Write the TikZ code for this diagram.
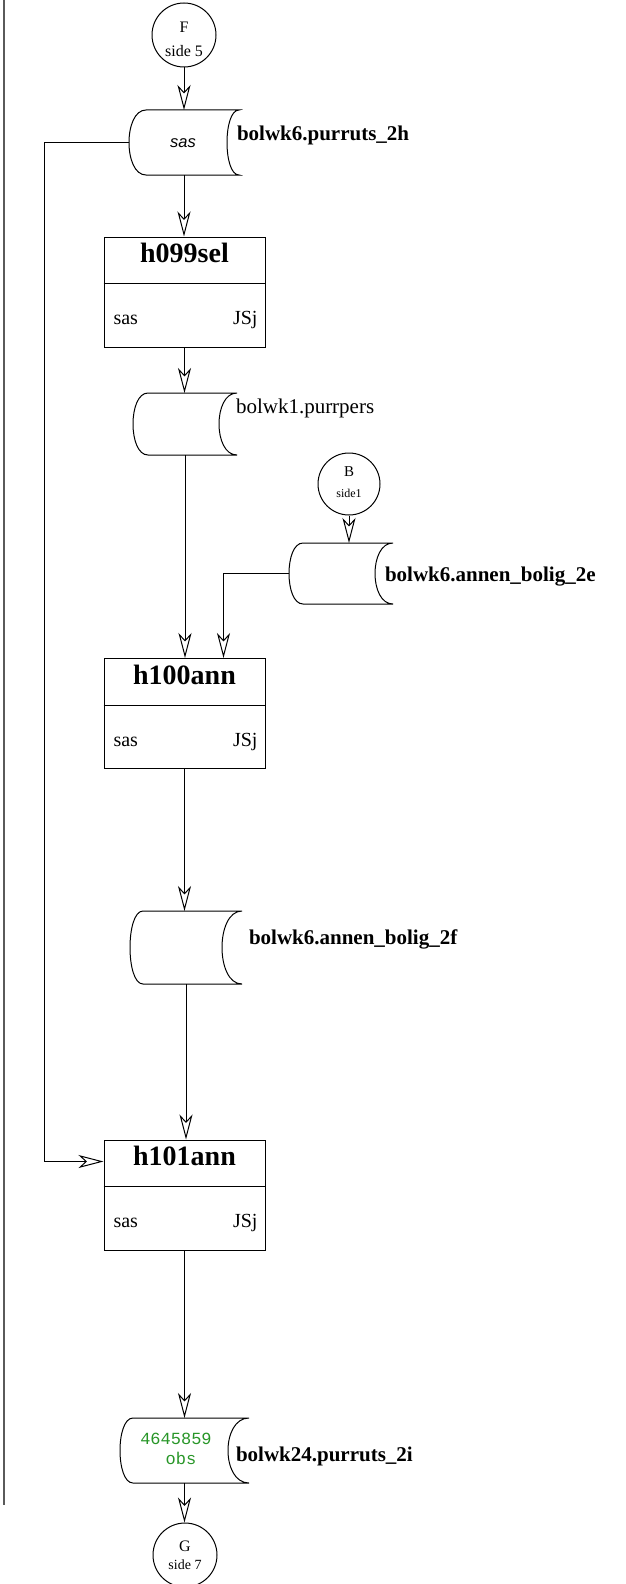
\documentclass[tikz,border=0pt]{standalone}
\usepackage{fontspec}
\setmainfont{Liberation Serif}
\setsansfont{Liberation Sans}
\setmonofont{Liberation Mono}
\usetikzlibrary{arrows.meta,calc}
\definecolor{obsgreen}{RGB}{40,150,40}
\definecolor{rulegray}{RGB}{90,90,90}
\tikzset{
  plain/.style={line width=1pt},
  conn/.style={line width=1pt, -{Stealth[open, length=25pt, width=13pt, inset=7pt]}},
  pagecircle/.style={circle, draw, line width=1pt, minimum size=64pt, inner sep=0pt},
  procbox/.style={draw, line width=1pt, minimum width=161pt, minimum height=110pt, inner sep=0pt},
  txt/.style={inner sep=0pt, outer sep=0pt},
  lbl/.style={txt, anchor=base west, font=\fontsize{21}{25}\selectfont},
  lblb/.style={txt, anchor=base west, font=\bfseries\fontsize{21}{25}\selectfont},
  ttl/.style={txt, anchor=base, font=\bfseries\fontsize{28}{32}\selectfont},
  cell/.style={txt, font=\fontsize{20}{24}\selectfont},
  circtxt/.style={txt, anchor=base, font=\fontsize{16}{19}\selectfont},
  obs/.style={txt, anchor=base, text=obsgreen, font=\ttfamily\fontsize{17}{20}\selectfont},
}
% storage: xl xr yt yb dl dr name
\newcommand{\storagenode}[7]{%
  \node[inner sep=0pt, outer sep=0pt, minimum width={(#2-#1)*1pt}, minimum height={(#4-#3)*1pt}] (#7) at ({(#1+#2)/2},{(#3+#4)/2}) {};
  \draw[plain] ({#1+#5},#3) -- (#2,#3)
    .. controls ({#2-4*#6/3},#3) and ({#2-4*#6/3},#4) .. (#2,#4)
    -- ({#1+#5},#4)
    .. controls ({#1-#5/3},#4) and ({#1-#5/3},#3) .. cycle;}
% process box: name, y-centre, title
\newcommand{\procnode}[3]{%
  \node[procbox] (#1) at (184.5,#2) {};
  \draw[plain] ($(#1.north west)+(0,47)$) -- ($(#1.north east)+(0,47)$);
  \node[ttl] (#1t) at ($(#1.north)+(0,26)$) {#3};
  \node[cell, anchor=base west] (#1a) at ($(#1.north west)+(10,88)$) {sas};
  \node[cell, anchor=base east] (#1b) at ($(#1.north east)+(-8,88)$) {JSj};}
\begin{document}
\begin{tikzpicture}[x=1pt,y=-1pt]
\useasboundingbox (0,0) rectangle (625,1584);

% left rule
\draw[rulegray, line width=2pt] (4,0) -- (4,1505);

% page connector F
\node[pagecircle] (F) at (184,35) {};
\node[circtxt] (Ft) at ($(F.center)+(0,-2)$) {F};
\node[circtxt] (Fs) at ($(F.center)+(0,22)$) {side 5};

% storage 1
\storagenode{129}{239}{110}{175}{17}{12}{s1}
\node[txt, anchor=base, font=\sffamily\itshape\fontsize{16.5}{20}\selectfont] (s1t) at (183,147) {sas};
\node[lblb] (s1l) at (237,141) {bolwk6.purruts\_2h};

% h099sel
\procnode{h099}{292}{h099sel}

% storage 2
\storagenode{133}{237}{393}{455}{15}{18}{s2}
\node[lbl] (s2l) at (236,413) {bolwk1.purrpers};

% page connector B
\node[pagecircle, minimum size=62pt] (B) at (349,484) {};
\node[circtxt, font=\fontsize{15}{18}\selectfont] (Bt) at ($(B.center)+(0,-8)$) {B};
\node[circtxt, font=\fontsize{12}{14}\selectfont] (Bs) at ($(B.center)+(0,13)$) {side1};

% storage 3
\storagenode{289}{393}{543}{604}{14}{18}{s3}
\node[lblb] (s3l) at (385,581) {bolwk6.annen\_bolig\_2e};

% h100ann
\procnode{h100}{713.5}{h100ann}

% storage 4
\storagenode{130}{242}{911}{984}{13}{20}{s4}
\node[lblb] (s4l) at (249,944) {bolwk6.annen\_bolig\_2f};

% h101ann
\procnode{h101}{1195}{h101ann}

% storage 5
\storagenode{120}{249}{1418}{1483}{13}{21}{s5}
\node[obs] (s5a) at (176,1444) {4645859};
\node[obs] (s5b) at (181,1464) {obs};
\node[lblb] (s5l) at (236,1461) {bolwk24.purruts\_2i};

% page connector G
\node[pagecircle] (G) at (185,1555) {};
\node[circtxt] (Gt) at ($(G.center)+(0,-4)$) {G};
\node[circtxt, font=\fontsize{14}{17}\selectfont] (Gs) at ($(G.center)+(0,14)$) {side 7};

% connectors
\coordinate (h100in) at ($(h100.north west)+(120,0)$);
\coordinate (h101in) at ($(h101.north west)+(0,22)$);
\draw[conn] (F.south) -- (F.south |- s1.north);
\draw[conn] (s1.south) -- (s1.south |- h099.north);
\draw[conn] (h099.south) -- (h099.south |- s2.north);
\draw[conn] (s2.south) -- (s2.south |- h100.north);
\draw[conn] (B.south) -- (B.south |- s3.north);
\draw[conn] (s3.west) -| (h100in);
\draw[conn] (h100.south) -- (h100.south |- s4.north);
\draw[conn] (s4.south) -- (s4.south |- h101.north);
\draw[conn] (s1.west) -- ++(-85,0) |- (h101in);
\draw[conn] (h101.south) -- (h101.south |- s5.north);
\draw[conn] (s5.south) -- (s5.south |- G.north);
\end{tikzpicture}
\end{document}
